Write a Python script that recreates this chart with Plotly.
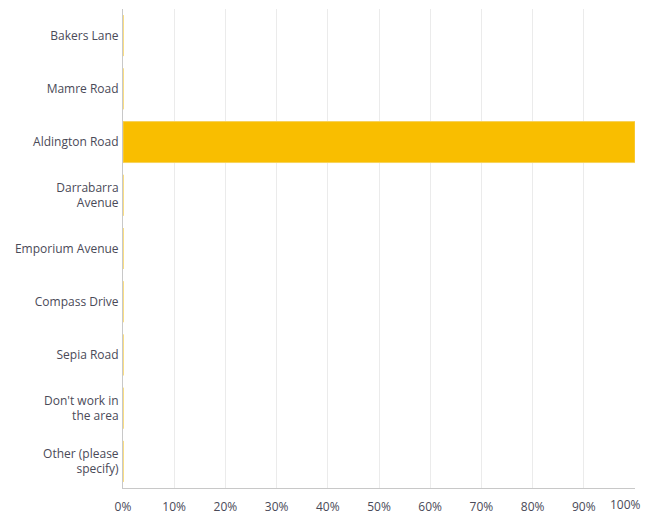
import plotly.graph_objects as go

categories = ["Bakers Lane", "Mamre Road", "Aldington Road", "Darrabarra<br>Avenue",
              "Emporium Avenue", "Compass Drive", "Sepia Road",
              "Don't work in<br>the area", "Other (please<br>specify)"]
values = [0, 0, 100, 0, 0, 0, 0, 0, 0]
tick_vals = [0, 10, 20, 30, 40, 50, 60, 70, 80, 90, 100]
tick_text = ["0%", "10%", "20%", "30%", "40%", "50%", "60%", "70%", "80%", "90%", "100%"]

fig = go.Figure(go.Bar(
    x=values, y=categories, orientation="h",
    marker=dict(color="#F9BE00", line=dict(color="#F7D25A", width=1)),
    width=0.77,
))
fig.update_layout(
    width=646, height=520,
    margin=dict(l=123, r=11, t=9, b=32),
    plot_bgcolor="white", paper_bgcolor="white",
    font=dict(family="Open Sans", size=12, color="#4a4a58"),
    showlegend=False,
)
# last tick label drawn as annotation so it can sit inside the page edge
fig.add_annotation(x=tick_vals[-1], xref="x", y=0, yref="paper",
                   text=tick_text[-1], showarrow=False,
                   xanchor="right", yanchor="top", xshift=8, yshift=-6,
                   font=dict(family="Open Sans", size=12, color="#4a4a58"))
fig.update_xaxes(range=[0, 100], tickvals=tick_vals[:-1], ticktext=tick_text[:-1],
                 showgrid=True, gridcolor="#ebebeb", gridwidth=1,
                 showline=True, linecolor="#c8c8c8", linewidth=1,
                 zeroline=False, ticks="", ticklabelstandoff=8, automargin=False)
fig.update_yaxes(autorange="reversed", showgrid=False, showline=True,
                 linecolor="#c8c8c8", linewidth=1, ticks="", ticklabelstandoff=1,
                 automargin=False)
fig.write_html("out.html", config={"displayModeBar": False},
               post_script="document.body.style.margin='0';document.body.style.overflow='hidden';")
